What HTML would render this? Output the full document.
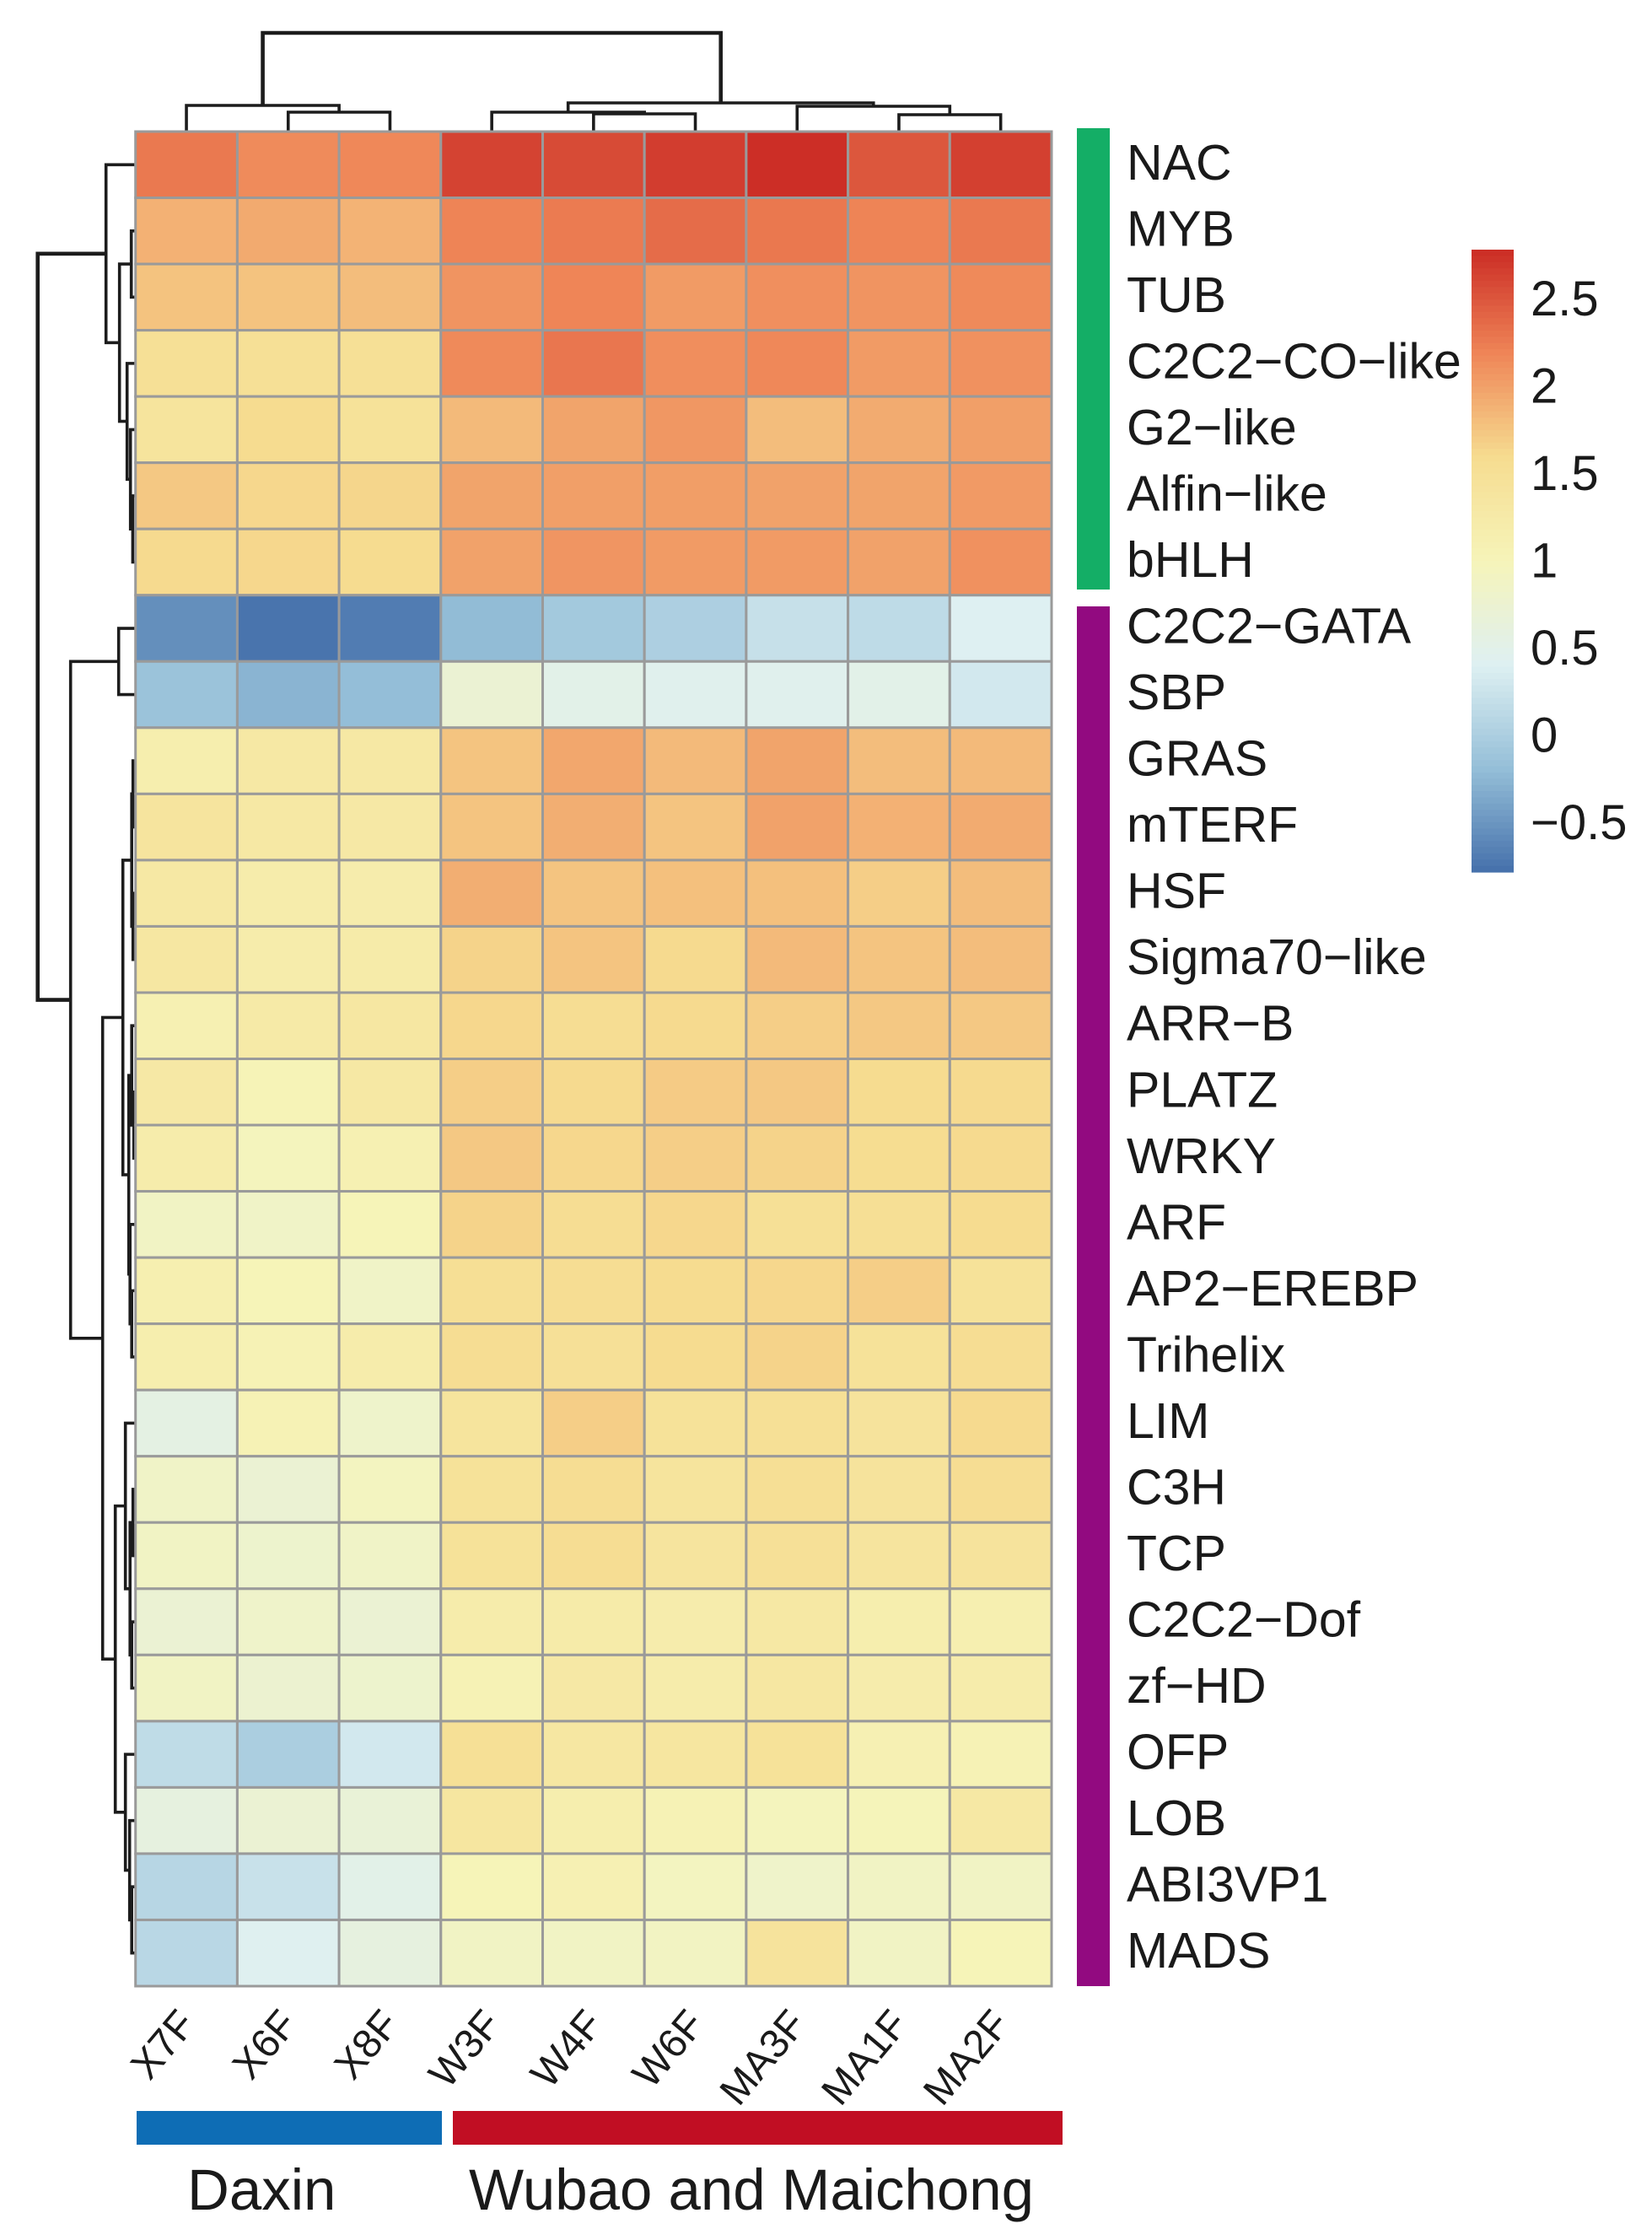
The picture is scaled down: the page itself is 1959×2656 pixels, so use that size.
<!DOCTYPE html>
<html lang="en">
<head>
<meta charset="utf-8">
<title>Transcription factor family heatmap</title>
<style>
html,body{margin:0;padding:0;background:#fff;}
svg{display:block;font-family:"Liberation Sans",sans-serif;}
</style>
</head>
<body>
<svg id="chart" xmlns="http://www.w3.org/2000/svg" width="1959" height="2656" viewBox="0 0 1959 2656">
  <rect x="0" y="0" width="1959" height="2656" fill="#ffffff"/>
  <g id="top-tree" fill="none" stroke="#1c1c1c" stroke-width="3.6"></g>
  <g id="left-tree" fill="none" stroke="#1c1c1c" stroke-width="3.6"></g>
  <g id="cells" stroke="#9a9a9a" stroke-width="3"></g>
  <rect x="1277" y="152" width="39" height="547" fill="#14ae66"/>
  <rect x="1277" y="719" width="39" height="1636" fill="#920a80"/>
  <g id="row-labels" font-size="59" fill="#1a1a1a"></g>
  <g id="col-labels" font-size="48" fill="#1a1a1a"></g>
  <g id="legend"></g>
  <g id="legend-labels" font-size="58" fill="#1a1a1a"></g>
  <rect x="162" y="2503" width="362" height="40" fill="#0e6db5"/>
  <rect x="537" y="2503" width="723" height="40" fill="#c10e23"/>
  <text x="222" y="2620" font-size="69" fill="#1a1a1a">Daxin</text>
  <text x="556" y="2620" font-size="69" fill="#1a1a1a">Wubao and Maichong</text>
</svg>
<script>
const rowLabels = ["NAC","MYB","TUB","C2C2\u2212CO\u2212like","G2\u2212like","Alfin\u2212like","bHLH","C2C2\u2212GATA","SBP","GRAS","mTERF","HSF","Sigma70\u2212like","ARR\u2212B","PLATZ","WRKY","ARF","AP2\u2212EREBP","Trihelix","LIM","C3H","TCP","C2C2\u2212Dof","zf\u2212HD","OFP","LOB","ABI3VP1","MADS"];
const colLabels = ["X7F","X6F","X8F","W3F","W4F","W6F","MA3F","MA1F","MA2F"];
const values = [
[2.26,2.14,2.16,2.62,2.57,2.66,2.76,2.49,2.64],
[1.88,1.93,1.87,2.19,2.25,2.35,2.27,2.19,2.26],
[1.76,1.76,1.80,2.08,2.18,2.03,2.11,2.08,2.15],
[1.50,1.50,1.50,2.15,2.28,2.12,2.16,2.03,2.10],
[1.40,1.58,1.45,1.82,1.97,2.06,1.80,1.92,2.00],
[1.72,1.62,1.63,1.97,2.00,2.01,1.98,1.97,2.04],
[1.60,1.62,1.58,1.98,2.07,2.03,2.03,1.98,2.10],
[-0.56,-0.76,-0.70,-0.22,-0.08,0.00,0.20,0.14,0.40],
[-0.15,-0.28,-0.20,0.72,0.50,0.45,0.45,0.50,0.30],
[1.15,1.30,1.30,1.75,1.95,1.82,1.97,1.80,1.82],
[1.38,1.30,1.28,1.75,1.90,1.75,1.98,1.88,1.92],
[1.30,1.20,1.18,1.90,1.75,1.78,1.78,1.68,1.80],
[1.32,1.20,1.22,1.65,1.75,1.60,1.82,1.75,1.80],
[1.10,1.25,1.32,1.62,1.55,1.60,1.68,1.72,1.72],
[1.28,1.02,1.30,1.68,1.60,1.70,1.72,1.58,1.60],
[1.20,0.95,1.10,1.72,1.62,1.68,1.65,1.57,1.60],
[0.88,0.85,1.00,1.65,1.55,1.62,1.50,1.52,1.58],
[1.12,1.00,0.85,1.52,1.55,1.58,1.62,1.68,1.45],
[1.15,1.05,1.20,1.55,1.48,1.58,1.65,1.45,1.55],
[0.55,1.05,0.80,1.40,1.68,1.45,1.50,1.42,1.60],
[0.85,0.72,0.92,1.45,1.55,1.40,1.52,1.42,1.55],
[0.88,0.78,0.85,1.45,1.55,1.38,1.48,1.38,1.42],
[0.72,0.82,0.72,1.20,1.22,1.18,1.30,1.15,1.12],
[0.88,0.75,0.78,1.05,1.28,1.20,1.32,1.18,1.20],
[0.15,-0.02,0.30,1.50,1.32,1.35,1.45,1.08,1.05],
[0.60,0.72,0.68,1.35,1.15,1.05,0.95,0.98,1.30],
[0.08,0.22,0.50,1.00,1.08,0.92,0.82,0.88,0.88],
[0.10,0.42,0.60,0.88,0.88,0.90,1.42,0.88,1.00]
];
const legendTicks = [2.5,2,1.5,1,0.5,0,-0.5];
const legendTickLabels = ["2.5","2","1.5","1","0.5","0","\u22120.5"];
const scaleMin = -0.79;
const scaleMax = 2.775;
const paletteColors = ["#4570ab","#95bfd8","#def0f2","#f6f4b9","#f6dc90","#ef8557","#cb2c25"];
// Dendrograms: [merge distance, child, child]; a bare number is a leaf index.
const colTree = [11.7,
  [3.1, 0, [2.3, 1, 2]],
  [3.4, [2.3, 3, [2.1, 4, 5]], [3.0, 6, [2.0, 7, 8]]]
];
const rowTree = [11.6,
  [3.5, 0, [1.9, [0.5, 1, 2], [1.0, 3, [0.6, 4, [0.33, 5, 6]]]]],
  [7.7, [2.0, 7, 8],
    [3.9,
      [1.5,
        [0.45, [0.3, 9, 10], [0.3, 11, 12]],
        [0.8, [0.45, 13, [0.2, 14, 15]], [0.65, 16, [0.45, 17, 18]]]
      ],
      [2.4,
        [1.2, 19, [0.65, [0.3, 20, 21], [0.45, 22, 23]]],
        [1.2, 24, [0.7, 25, [0.45, 26, 27]]]
      ]
    ]
  ]
];

const NS = "http://www.w3.org/2000/svg";
const plotLeft = 160.7, plotRight = 1247, plotTop = 156, plotBottom = 2355;
const cellW = (plotRight - plotLeft) / colLabels.length;
const cellH = (plotBottom - plotTop) / rowLabels.length;
const xCol = i => plotLeft + i * cellW;
const yRow = i => plotTop + i * cellH;
const legendTop = 296, legendBottom = 1034, legendX = 1745, legendW = 50;
const yLegend = v => legendTop + (scaleMax - v) / (scaleMax - scaleMin) * (legendBottom - legendTop);
const treeScale = 10;

function hexRgb(h){return [1,3,5].map(i=>parseInt(h.substr(i,2),16));}
function colorOf(v){
  const t = Math.max(0, Math.min(1, (v - scaleMin) / (scaleMax - scaleMin))) * (paletteColors.length - 1);
  const i = Math.min(paletteColors.length - 2, Math.floor(t));
  const a = hexRgb(paletteColors[i]), b = hexRgb(paletteColors[i + 1]);
  const f = t - i;
  return "rgb(" + a.map((c, k) => Math.round(c + (b[k] - c) * f)).join(",") + ")";
}

const cellsG = document.getElementById("cells");
values.forEach((row, r) => row.forEach((v, c) => {
  const el = document.createElementNS(NS, "rect");
  
  
  el.setAttribute("x", xCol(c));
  el.setAttribute("y", yRow(r));
  el.setAttribute("width", cellW);
  el.setAttribute("height", cellH);
  el.setAttribute("fill", colorOf(v));
  cellsG.appendChild(el);
}));

const rowG = document.getElementById("row-labels");
rowLabels.forEach((s, r) => {
  const el = document.createElementNS(NS, "text");
  
  
  el.setAttribute("x", 1336);
  el.setAttribute("y", yRow(r) + cellH / 2 + 17.5);
  el.textContent = s;
  rowG.appendChild(el);
});

const colG = document.getElementById("col-labels");
colLabels.forEach((s, c) => {
  const el = document.createElementNS(NS, "text");
  
  
  const ax = xCol(c) + cellW / 2 + 13, ay = 2401;
  el.setAttribute("x", ax);
  el.setAttribute("y", ay);
  el.setAttribute("text-anchor", "end");
  el.setAttribute("transform", "rotate(-50 " + ax + " " + ay + ")");
  el.textContent = s;
  colG.appendChild(el);
});

const legendG = document.getElementById("legend");
const legendSteps = 100;
for (let i = 0; i < legendSteps; i++) {
  const v1 = scaleMax - i * (scaleMax - scaleMin) / legendSteps;
  const v2 = scaleMax - (i + 1) * (scaleMax - scaleMin) / legendSteps;
  const el = document.createElementNS(NS, "rect");
  
  
  el.setAttribute("x", legendX);
  el.setAttribute("y", yLegend(v1));
  el.setAttribute("width", legendW);
  el.setAttribute("height", yLegend(v2) - yLegend(v1) + 0.6);
  el.setAttribute("fill", colorOf((v1 + v2) / 2));
  legendG.appendChild(el);
}
const legendLabelG = document.getElementById("legend-labels");
legendTicks.forEach((t, i) => {
  const el = document.createElementNS(NS, "text");
  
  
  el.setAttribute("x", 1815);
  el.setAttribute("y", yLegend(t) + 21);
  el.textContent = legendTickLabels[i];
  legendLabelG.appendChild(el);
});

function drawTree(node, group, horizontalRoot, leafPos, distPos, name, isRoot) {
  if (typeof node === "number") return { p: leafPos(node), d: distPos(0), leaf: true };
  const a = drawTree(node[1], group, horizontalRoot, leafPos, distPos, name, false);
  const b = drawTree(node[2], group, horizontalRoot, leafPos, distPos, name, false);
  const d = distPos(node[0]);
  const el = document.createElementNS(NS, "path");
  
  
  const pts = horizontalRoot
    ? "M" + a.p + " " + a.d + "V" + d + "H" + b.p + "V" + b.d
    : "M" + a.d + " " + a.p + "H" + d + "V" + b.p + "H" + b.d;
  el.setAttribute("d", pts);
  if (isRoot) el.setAttribute("stroke-width", "4.6");
  group.appendChild(el);
  return { p: (a.p + b.p) / 2, d: d };
}
drawTree(colTree, document.getElementById("top-tree"), true,
  i => xCol(i) + cellW / 2, h => plotTop - h * treeScale, "column-dendrogram-branch", true);
drawTree(rowTree, document.getElementById("left-tree"), false,
  i => yRow(i) + cellH / 2, h => plotLeft - h * treeScale, "row-dendrogram-branch", true);
</script>
</body>
</html>
